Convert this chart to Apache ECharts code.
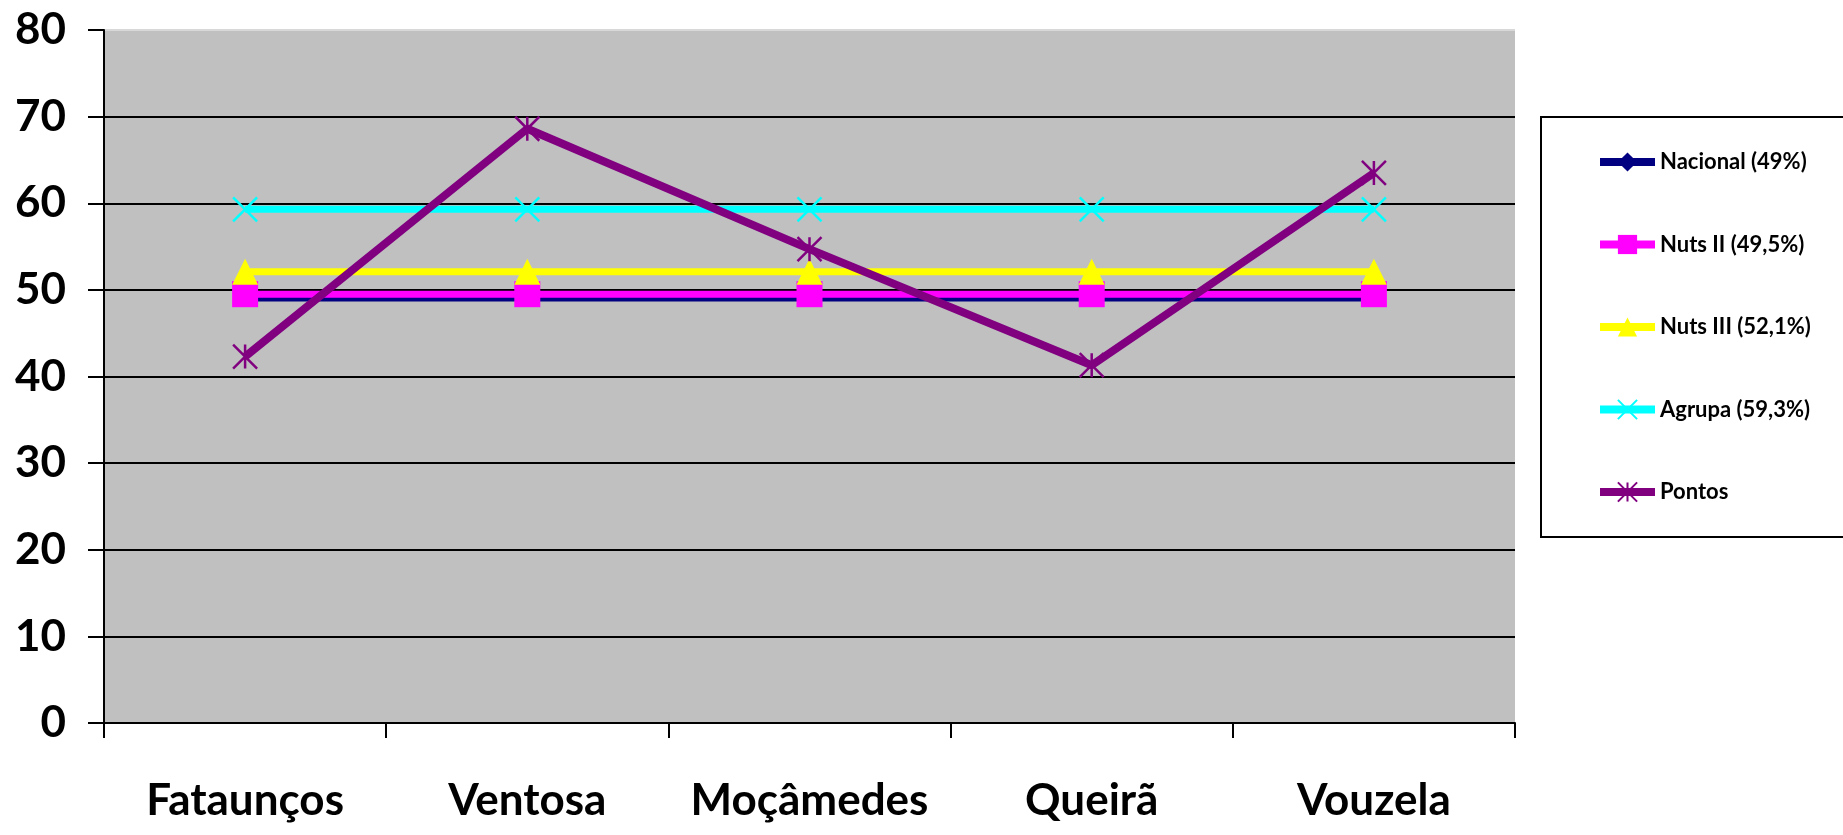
<!DOCTYPE html>
<html>
<head>
<meta charset="utf-8">
<script src="https://cdn.jsdelivr.net/npm/echarts@6/dist/echarts.min.js"></script>
<style>
  html, body { margin: 0; padding: 0; background: #ffffff; }
  #chart { width: 1843px; height: 835px; }
</style>
</head>
<body>
<div id="chart"></div>
<script>
const categories = ["Fataunços", "Ventosa", "Moçâmedes", "Queirã", "Vouzela"];
const nacional = [49, 49, 49, 49, 49];
const nutsII = [49.5, 49.5, 49.5, 49.5, 49.5];
const nutsIII = [52.1, 52.1, 52.1, 52.1, 52.1];
const agrupa = [59.3, 59.3, 59.3, 59.3, 59.3];
const pontos = [42.3, 68.6, 54.7, 41.3, 63.5];
const seriesNames = ["Nacional (49%)", "Nuts II (49,5%)", "Nuts III (52,1%)", "Agrupa (59,3%)", "Pontos"];

const FONT = "Lato";
const crossPath = "path://M0 0L10 10M10 0L0 10";
const starPath = "path://M0 0L10 10M10 0L0 10M5 0L5 10";

let myChart = echarts.init(document.getElementById("chart"));

function makeSeries(name, data, color, width, symbol, size, stroked) {
  return {
    name: name,
    type: "line",
    data: data,
    symbol: symbol,
    symbolSize: size,
    showAllSymbol: true,
    animation: false,
    lineStyle: { color: color, width: width },
    itemStyle: stroked
      ? { color: "rgba(0,0,0,0)", borderColor: color, borderWidth: 2.5 }
      : { color: color, borderWidth: 0 },
    emphasis: { disabled: true }
  };
}

let option = {
  backgroundColor: "#ffffff",
  textStyle: { fontFamily: FONT },
  grid: {
    left: 104, top: 30, right: 328, bottom: 112,
    show: true, backgroundColor: "#c0c0c0", borderWidth: 0
  },
  legend: {
    orient: "vertical",
    left: 1591,
    top: 145,
    itemWidth: 55,
    itemHeight: 24,
    itemGap: 58.5,
    lineStyle: { width: 8 },
    textStyle: { fontFamily: FONT, fontWeight: "bold", fontSize: 22, color: "#000", lineHeight: 24 },
    data: seriesNames
  },
  graphic: [{
    type: "rect",
    shape: { x: 1541, y: 117, width: 320, height: 420 },
    style: { fill: "none", stroke: "#000", lineWidth: 2 },
    silent: true
  }],
  xAxis: {
    type: "category",
    data: categories,
    boundaryGap: true,
    axisLine: { lineStyle: { color: "#000", width: 2 } },
    axisTick: { show: true, interval: 0, length: 15, lineStyle: { color: "#000", width: 2 } },
    axisLabel: { interval: 0, fontFamily: FONT, fontWeight: "bold", fontSize: 44, color: "#000", margin: 56 },
    splitLine: { show: false }
  },
  yAxis: {
    type: "value",
    min: 0, max: 80, interval: 10,
    axisLine: { show: true, lineStyle: { color: "#000", width: 2 } },
    axisTick: { show: true, length: 16, lineStyle: { color: "#000", width: 2 } },
    axisLabel: { fontFamily: FONT, fontWeight: "bold", fontSize: 44, color: "#000", margin: 38 },
    splitLine: {
      show: true,
      lineStyle: { color: ["#000", "#000", "#000", "#000", "#000", "#000", "#000", "#000", "#d8d8d8"], width: 2 }
    }
  },
  series: [
    makeSeries(seriesNames[0], nacional, "#000080", 6, "diamond", 14, false),
    makeSeries(seriesNames[1], nutsII, "#ff00ff", 7, "rect", 26, false),
    makeSeries(seriesNames[2], nutsIII, "#ffff00", 7, "triangle", 26, false),
    makeSeries(seriesNames[3], agrupa, "#00ffff", 7, crossPath, 24, true),
    makeSeries(seriesNames[4], pontos, "#800080", 8, starPath, 24, true)
  ]
};

option && myChart.setOption(option);
</script>
</body>
</html>
